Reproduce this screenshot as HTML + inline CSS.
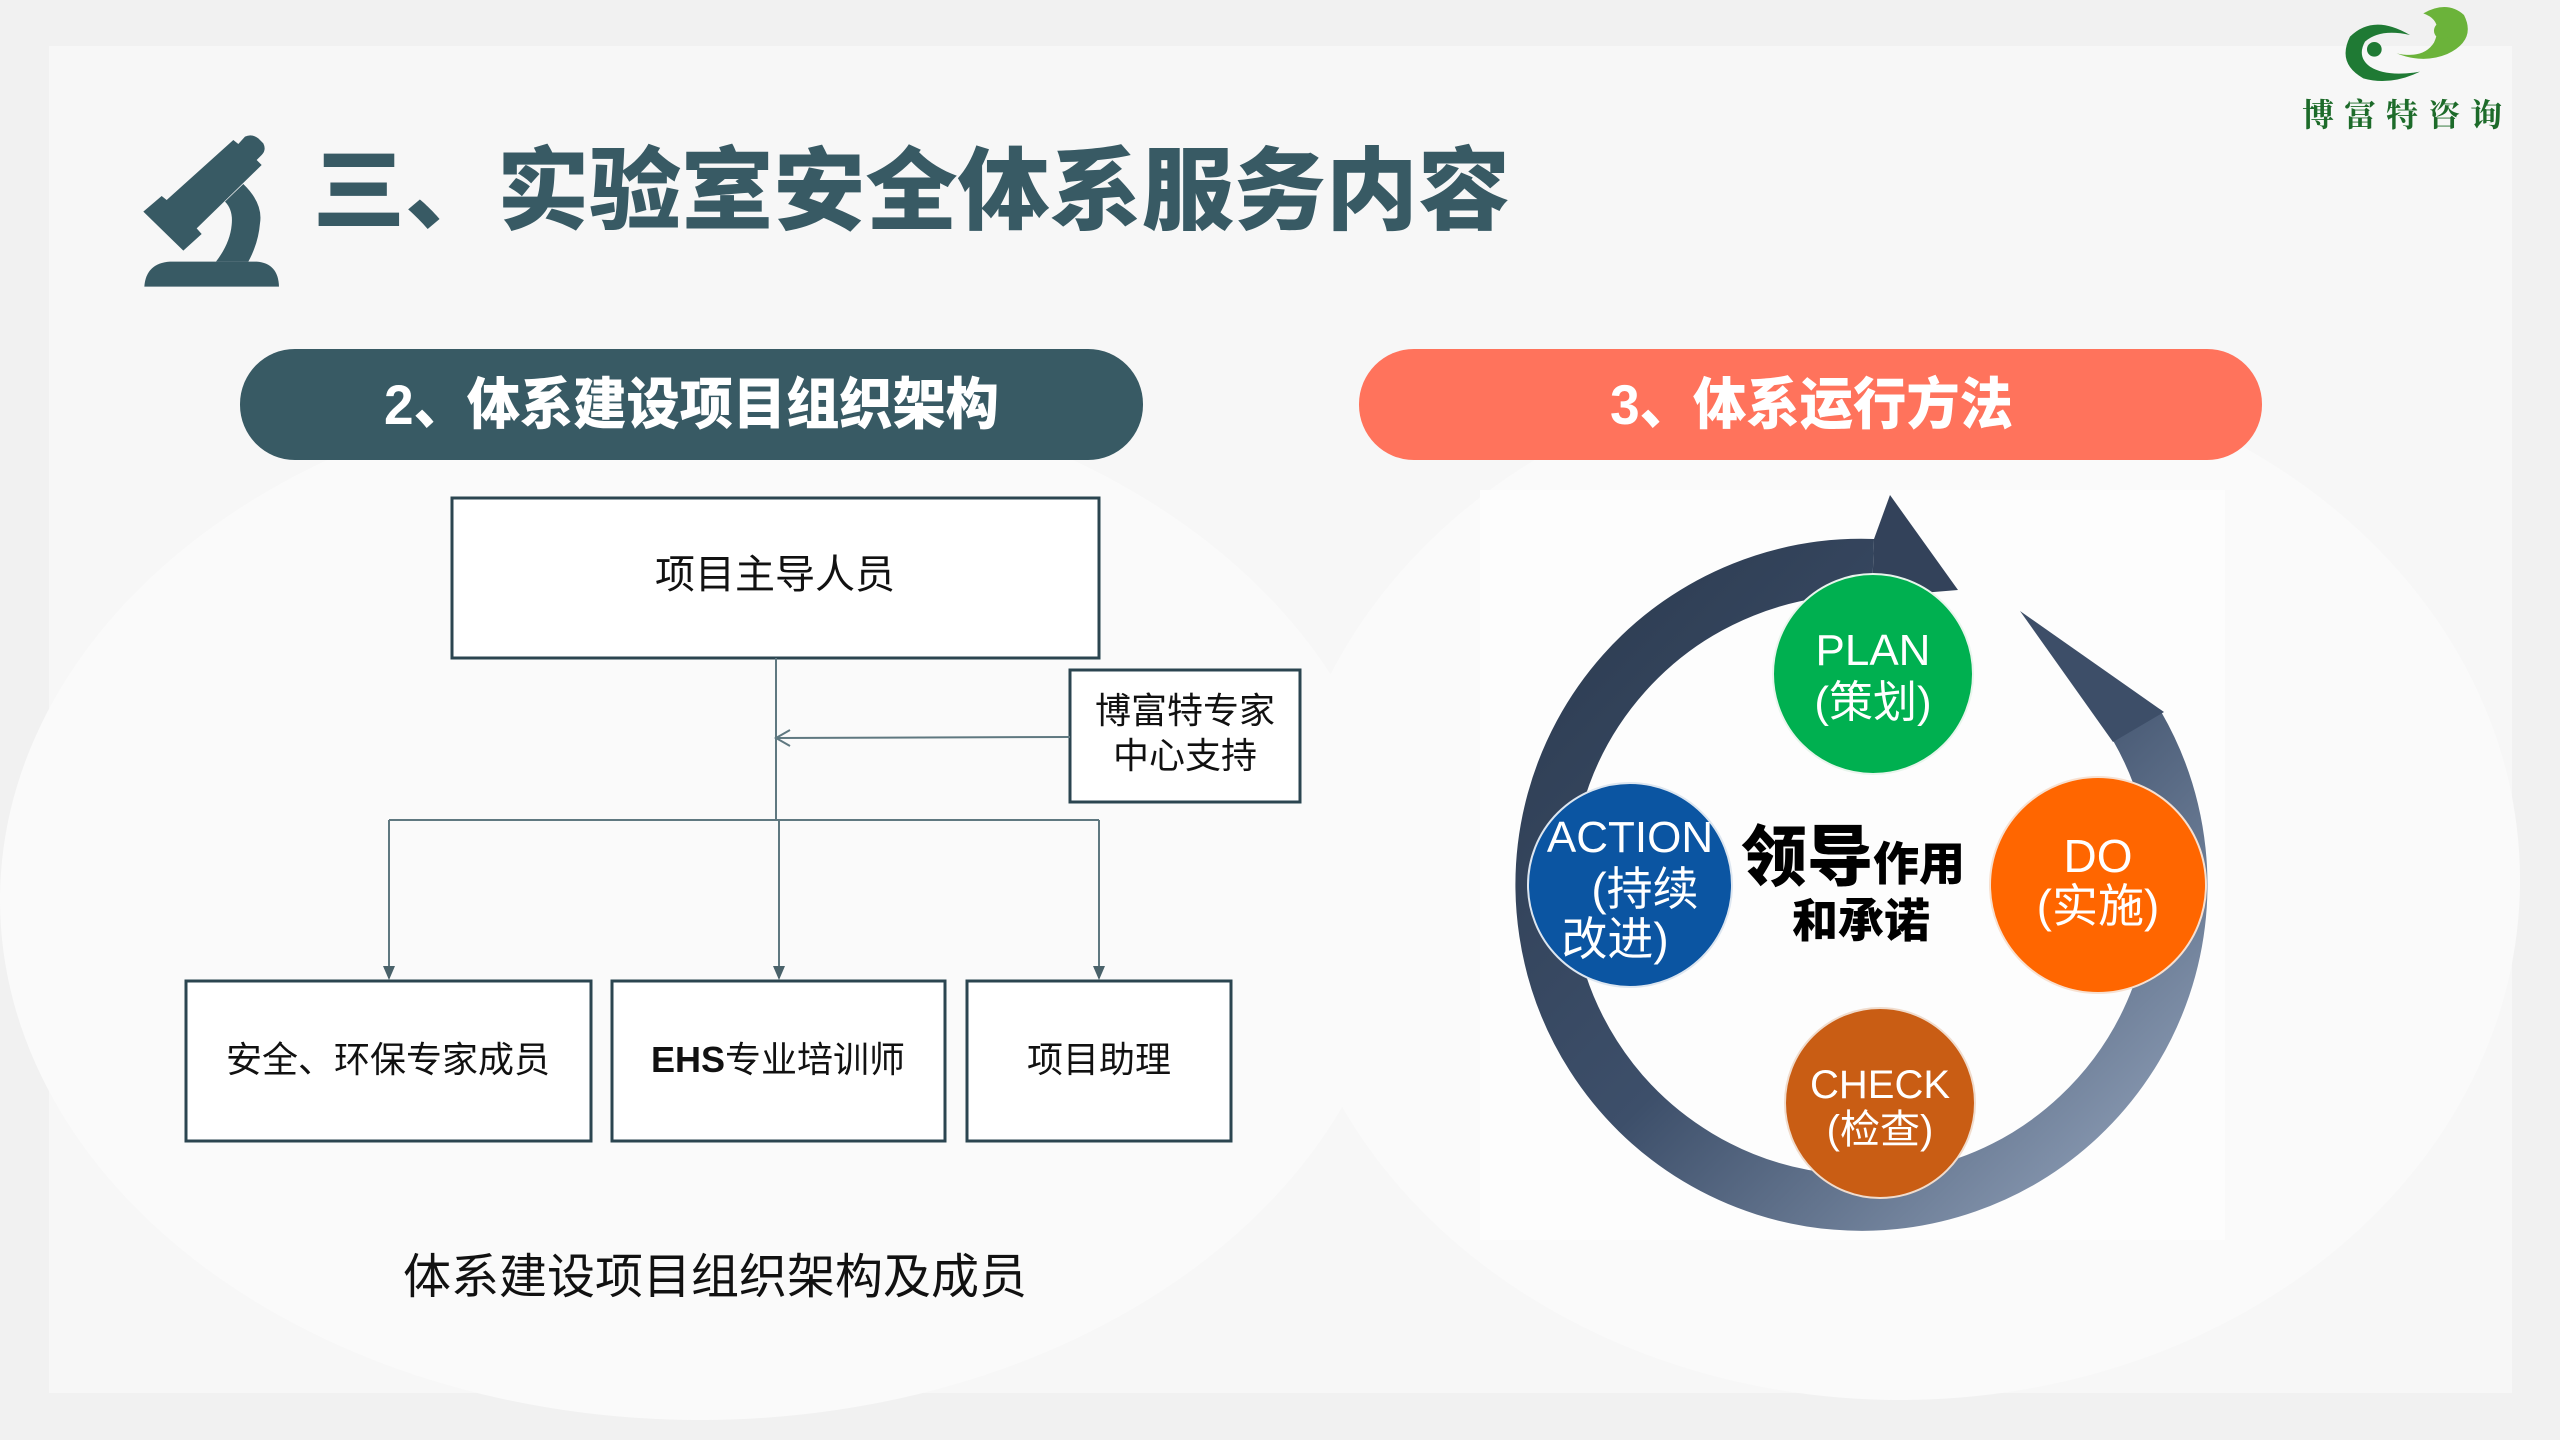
<!DOCTYPE html>
<html><head><meta charset="utf-8"><style>
html,body{margin:0;padding:0;width:2560px;height:1440px;overflow:hidden;background:#f1f1f1}
svg{display:block}
text{font-family:"Liberation Sans","Noto Sans CJK SC",sans-serif}
</style></head><body>
<svg width="2560" height="1440" viewBox="0 0 2560 1440" xmlns="http://www.w3.org/2000/svg">
<defs>
<linearGradient id="rg" x1="0" y1="0" x2="1" y2="1">
<stop offset="0" stop-color="#2c3b50"/><stop offset="0.5" stop-color="#3d4f6a"/><stop offset="1" stop-color="#95a5bd"/>
</linearGradient>
</defs>
<rect x="49" y="46" width="2463" height="1347" fill="#f7f7f7"/>
<ellipse cx="700" cy="900" rx="700" ry="520" fill="#fafafa"/>
<ellipse cx="1900" cy="880" rx="620" ry="520" fill="#fafafa"/>
<rect x="1480" y="490" width="745" height="750" fill="#fdfdfd"/>

<!-- microscope -->
<g transform="translate(130,120) scale(0.3333)" fill="#385a64">
<path d="M40 275 L95 228 L110 240 L310 60 L325 72 L345 50 Q365 40 385 55 L400 70 Q410 90 395 105 L380 120 L395 135 L200 325 L215 342 L160 392 Z"/>
<path d="M340 192 Q400 250 390 310 Q385 370 355 425 L258 425 Q300 370 305 315 Q310 270 285 245 Z"/>
<path d="M43 500 Q48 430 120 425 L380 425 Q445 430 447 500 Z"/>
</g>
<text x="313" y="222" font-size="90" font-weight="900" fill="#385a64" textLength="1197" lengthAdjust="spacingAndGlyphs">三、实验室安全体系服务内容</text>

<!-- logo -->
<g transform="translate(2290,0) scale(0.3333)">
<path d="M360 105 Q250 40 180 110 Q140 190 220 235 Q300 258 390 215 Q290 232 240 200 Q200 170 225 125 Q270 85 360 105 Z" fill="#1f7a34"/>
<circle cx="253" cy="148" r="22" fill="#1f7a34"/>
<path d="M320 160 Q400 178 432 128 Q462 62 400 40 Q472 0 522 45 Q560 120 472 162 Q400 192 320 160 Z" fill="#6bb33a"/>
<circle cx="457" cy="92" r="25" fill="#6bb33a"/>
</g>
<text x="2302" y="126" font-size="32" font-weight="bold" fill="#1d6b2a" letter-spacing="10" style="font-family:'Noto Serif CJK SC',serif">博富特咨询</text>

<!-- pills -->
<rect x="240" y="349" width="903" height="111" rx="55" fill="#385a64"/>
<text x="384" y="424" font-size="56" font-weight="900" fill="#fff" textLength="615" lengthAdjust="spacingAndGlyphs">2、体系建设项目组织架构</text>
<rect x="1359" y="349" width="903" height="111" rx="55" fill="#ff735c"/>
<text x="1610" y="424" font-size="56" font-weight="900" fill="#fff" textLength="403" lengthAdjust="spacingAndGlyphs">3、体系运行方法</text>

<!-- org chart -->
<g fill="#fff" stroke="#2b4550" stroke-width="3">
<rect x="452" y="498" width="647" height="160"/>
<rect x="1070" y="670" width="230" height="132"/>
<rect x="186" y="981" width="405" height="160"/>
<rect x="612" y="981" width="333" height="160"/>
<rect x="967" y="981" width="264" height="160"/>
</g>
<g stroke="#5f7880" stroke-width="2" fill="none">
<line x1="776" y1="658" x2="776" y2="820"/>
<line x1="1070" y1="737" x2="776" y2="738"/>
<polyline points="790,730 776,738 790,746"/>
<line x1="389" y1="820" x2="1099" y2="820"/>
<line x1="389" y1="820" x2="389" y2="978"/>
<line x1="779" y1="820" x2="779" y2="978"/>
<line x1="1099" y1="820" x2="1099" y2="978"/>
</g>
<g fill="#4a626a">
<polygon points="383,966 395,966 389,980"/>
<polygon points="773,966 785,966 779,980"/>
<polygon points="1093,966 1105,966 1099,980"/>
</g>
<g fill="#111" text-anchor="middle">
<text x="775" y="588" font-size="40">项目主导人员</text>
<text x="1185" y="723" font-size="36">博富特专家</text>
<text x="1185" y="768" font-size="36">中心支持</text>
<text x="388" y="1072" font-size="36">安全、环保专家成员</text>
<text x="778" y="1072" font-size="36"><tspan font-weight="bold">EHS</tspan>专业培训师</text>
<text x="1099" y="1072" font-size="36">项目助理</text>
<text x="715" y="1293" font-size="48">体系建设项目组织架构及成员</text>
</g>

<!-- PDCA cycle -->
<path d="M2137 726 A318 318 0 1 1 1873 567" fill="none" stroke="url(#rg)" stroke-width="56"/>
<polygon points="1890,495 1958,590 1872,597 1874,539" fill="#33425a"/>
<polygon points="2020,611 2164,712 2113,742" fill="#3d4e68"/>

<circle cx="1873" cy="674" r="100" fill="#00b050" stroke="#e8f5ec" stroke-width="2"/>
<circle cx="1630" cy="885" r="102" fill="#0b55a2" stroke="#dde6f0" stroke-width="2"/>
<circle cx="2098" cy="885" r="108" fill="#ff6600" stroke="#f7e0d0" stroke-width="2"/>
<circle cx="1880" cy="1103" r="95" fill="#c95d14" stroke="#f0dccd" stroke-width="2"/>
<g fill="#fff" text-anchor="middle">
<text x="1873" y="665" font-size="44">PLAN</text>
<text x="1873" y="717" font-size="44">(策划)</text>
<text x="1630" y="852" font-size="44">ACTION</text>
<text x="1645" y="905" font-size="46">(持续</text>
<text x="1615" y="955" font-size="46">改进)</text>
<text x="2098" y="872" font-size="46">DO</text>
<text x="2098" y="922" font-size="46">(实施)</text>
<text x="1880" y="1098" font-size="40">CHECK</text>
<text x="1880" y="1143" font-size="40">(检查)</text>
</g>
<text x="1741" y="880" font-size="66" font-weight="900" fill="#000">领导<tspan font-size="46">作用</tspan></text>
<text x="1861" y="937" font-size="46" font-weight="900" fill="#000" text-anchor="middle">和承诺</text>
</svg>
</body></html>
